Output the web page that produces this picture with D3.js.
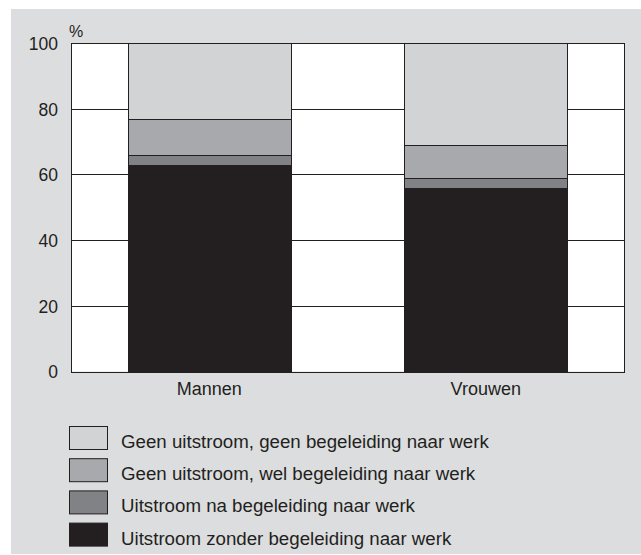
<!DOCTYPE html>
<html>
<head>
<meta charset="utf-8">
<script src="https://cdn.jsdelivr.net/npm/d3@7"></script>
<style>
  body { margin: 0; background: #ffffff; }
  text { font-family: "Liberation Sans", Arial, sans-serif; fill: #231f20; }
</style>
</head>
<body>
<div id="chart"></div>
<script>
// groups on the x axis
const groups = ["Mannen", "Vrouwen"];
// series, bottom to top
const seriesNames = [
  "Uitstroom zonder begeleiding naar werk",
  "Uitstroom na begeleiding naar werk",
  "Geen uitstroom, wel begeleiding naar werk",
  "Geen uitstroom, geen begeleiding naar werk"
];
const seriesColors = ["#231f20", "#808285", "#a7a9ac", "#d1d3d4"];
// percentages per group, same order as seriesNames
const zonderBegeleiding = [63, 56];
const naBegeleiding = [3, 3];
const welBegeleiding = [11, 10];
const geenBegeleiding = [23, 31];
const yTicks = [0, 20, 40, 60, 80, 100];

const width = 641, height = 555;
const plot = { left: 71, right: 624, top: 43, bottom: 371.5 };

const svg = d3.select("#chart").append("svg")
  .attr("width", width)
  .attr("height", height);

// gray panel
svg.append("rect")
  .attr("x", 11).attr("y", 9)
  .attr("width", width - 11).attr("height", 545)
  .attr("fill", "#dcdddf");

// white plot area
svg.append("rect")
  .attr("x", plot.left).attr("y", plot.top)
  .attr("width", plot.right - plot.left).attr("height", plot.bottom - plot.top)
  .attr("fill", "#ffffff");

const x = d3.scaleBand().domain(groups)
  .range([plot.left, plot.right])
  .paddingInner(0.41).paddingOuter(0.205);

const y = d3.scaleLinear().domain([0, 100]).range([plot.bottom, plot.top]);

// gridlines
svg.append("g").selectAll("line")
  .data(yTicks)
  .enter().append("line")
  .attr("x1", plot.left).attr("x2", plot.right)
  .attr("y1", d => Math.round(y(d)) + 0.5)
  .attr("y2", d => Math.round(y(d)) + 0.5)
  .attr("stroke", "#231f20")
  .attr("stroke-width", 1);

// stacked bars
const table = groups.map((g, i) => ({
  group: g,
  s0: zonderBegeleiding[i],
  s1: naBegeleiding[i],
  s2: welBegeleiding[i],
  s3: geenBegeleiding[i]
}));
const stack = d3.stack().keys(["s0", "s1", "s2", "s3"]);
const layers = stack(table);

svg.append("g").selectAll("g")
  .data(layers)
  .enter().append("g")
  .attr("fill", (d, i) => seriesColors[i])
  .selectAll("rect")
  .data(d => d)
  .enter().append("rect")
  .attr("x", d => Math.round(x(d.data.group)) + 0.5)
  .attr("y", d => Math.round(y(d[1])) + 0.5)
  .attr("width", Math.round(x.bandwidth()))
  .attr("height", d => Math.round(y(d[0])) - Math.round(y(d[1])))
  .attr("stroke", "#231f20")
  .attr("stroke-width", 1);

// frame (left axis, right edge)
svg.append("rect")
  .attr("x", plot.left + 0.5).attr("y", Math.round(plot.top) + 0.5)
  .attr("width", plot.right - plot.left)
  .attr("height", Math.round(plot.bottom) - Math.round(plot.top))
  .attr("fill", "none")
  .attr("stroke", "#231f20")
  .attr("stroke-width", 1);

// y axis labels
const yAxis = svg.append("g")
  .attr("transform", `translate(${plot.left},0)`)
  .call(d3.axisLeft(y).tickValues(yTicks).tickSize(0).tickPadding(13));
yAxis.select(".domain").remove();
yAxis.selectAll("text")
  .style("font-family", "'Liberation Sans', Arial, sans-serif")
  .style("font-size", "17.5px")
  .attr("fill", "#231f20")
  .attr("dy", "0.36em");

svg.append("text")
  .attr("x", 69).attr("y", 37)
  .style("font-size", "16px")
  .text("%");

// x axis labels
const xAxis = svg.append("g")
  .attr("transform", `translate(0,${plot.bottom})`)
  .call(d3.axisBottom(x).tickSize(0).tickPadding(11));
xAxis.select(".domain").remove();
xAxis.selectAll("text")
  .style("font-family", "'Liberation Sans', Arial, sans-serif")
  .style("font-size", "18px")
  .attr("fill", "#231f20");

// legend, top to bottom
const legendOrder = [3, 2, 1, 0];
const legend = svg.append("g").selectAll("g")
  .data(legendOrder)
  .enter().append("g")
  .attr("transform", (d, i) => `translate(69,${426 + i * 32.2})`);

legend.append("rect")
  .attr("x", 0.5).attr("y", 0.5)
  .attr("width", 38).attr("height", 23)
  .attr("fill", d => seriesColors[d])
  .attr("stroke", "#231f20")
  .attr("stroke-width", 1);

legend.append("text")
  .attr("x", 52).attr("y", 22)
  .style("font-size", "18.7px")
  .text(d => seriesNames[d]);
</script>
</body>
</html>
